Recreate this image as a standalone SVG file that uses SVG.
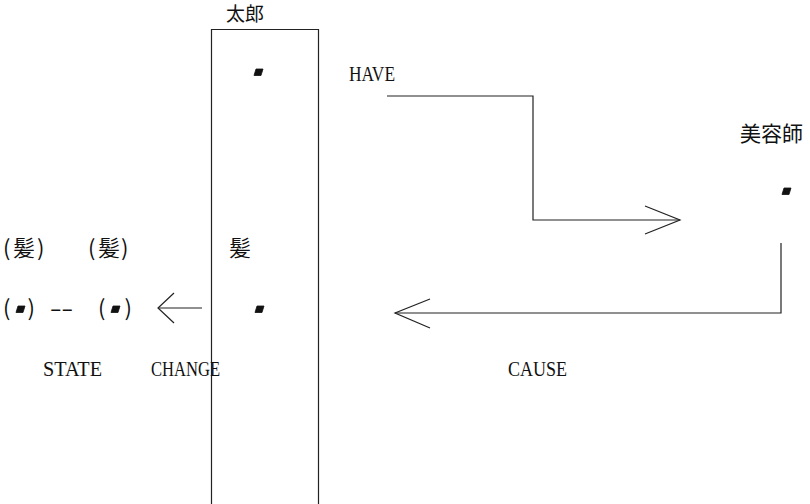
<svg xmlns="http://www.w3.org/2000/svg" width="810" height="504" viewBox="0 0 810 504">
<style>
.ln{fill:none;stroke:#222;stroke-width:1.2}
.lat{font-family:"Liberation Serif",serif;font-size:22px;fill:#111}
.cjk{font-family:"Noto Sans CJK JP","Noto Sans CJK SC",sans-serif;fill:#111}
.mark{fill:#111;stroke:#111;stroke-width:0.8}
</style>
<rect width="810" height="504" fill="#fff"/>
<g id="taro">
<path class="ln" d="M211.5,504 V29.5 H318.5 V504"/>
<text class="cjk" x="226" y="21" font-size="19">太郎</text>
<polygon class="mark" points="254,75.5 256,69 263,69 261,75.5"/>
<text class="cjk" x="229" y="256" font-size="22">髪</text>
<polygon class="mark" points="255,312.5 257,306 264,306 262,312.5"/>
</g>
<g id="biyoushi">
<text class="cjk" x="740" y="141" font-size="21">美容師</text>
<polygon class="mark" points="782,194.5 784,188 791,188 789,194.5"/>
</g>
<g id="state">
<text class="cjk" font-size="22" y="256"><tspan x="3">(</tspan><tspan x="13">髪</tspan><tspan x="37">)</tspan></text>
<text class="cjk" font-size="22" y="256"><tspan x="88">(</tspan><tspan x="98">髪</tspan><tspan x="121">)</tspan></text>
<text class="cjk" font-size="22" x="3" y="316">(</text>
<polygon class="mark" points="16,312.5 18,306 25,306 23,312.5"/>
<text class="cjk" font-size="22" x="35" y="316" text-anchor="end">)</text>
<text class="lat" x="50" y="315" textLength="23" lengthAdjust="spacingAndGlyphs">--</text>
<text class="cjk" font-size="22" x="98" y="316">(</text>
<polygon class="mark" points="111,312.5 113,306 120,306 118,312.5"/>
<text class="cjk" font-size="22" x="132" y="316" text-anchor="end">)</text>
</g>
<g id="connectors">
<path class="ln" d="M387,96 H533 V220 H680"/>
<path class="ln" d="M645,206 L680,220 L645,234"/>
<path class="ln" d="M781,243 V313 H395"/>
<path class="ln" d="M430,299 L395,313 L430,328"/>
<path class="ln" d="M202,308 H158"/>
<path class="ln" d="M174,293 L158,308 L174,323"/>
</g>
<g id="labels">
<text class="lat" x="349" y="81" textLength="46" lengthAdjust="spacingAndGlyphs">HAVE</text>
<text class="lat" x="43" y="376" textLength="59" lengthAdjust="spacingAndGlyphs">STATE</text>
<text class="lat" x="151" y="376" textLength="69" lengthAdjust="spacingAndGlyphs">CHANGE</text>
<text class="lat" x="508" y="376" textLength="59" lengthAdjust="spacingAndGlyphs">CAUSE</text>
</g>
</svg>
